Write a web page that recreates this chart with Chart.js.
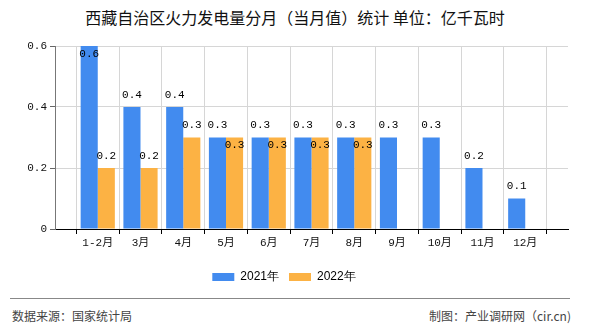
<!DOCTYPE html>
<html>
<head>
<meta charset="utf-8">
<script src="https://cdn.jsdelivr.net/npm/chart.js@4/dist/chart.umd.min.js"></script>
<style>
  html, body { margin: 0; padding: 0; background: #fff; }
  #wrap { position: relative; width: 590px; height: 330px; overflow: hidden; }
  #title { position: absolute; left: 0; top: 8px; width: 590px; text-align: center;
    font: 16px "Noto Sans CJK SC", sans-serif; line-height: 18px; color: #111; }
  #chartBox { position: absolute; left: 0; top: 0; width: 590px; height: 300px; }
  #footLine { position: absolute; left: 10px; top: 298px; width: 560px; border-top: 1px solid #888; }
  .foot { position: absolute; top: 308px; font: 12px "Noto Sans CJK SC", sans-serif; line-height: 16px; color: #444; }
</style>
</head>
<body>
<div id="wrap">
  <div id="title">西藏自治区火力发电量分月（当月值）统计 单位：亿千瓦时</div>
  <div id="chartBox"><canvas id="powerChart" width="590" height="300"></canvas></div>
  <div id="footLine"></div>
  <div class="foot" style="left:12px;">数据来源：国家统计局</div>
  <div class="foot" style="right:19px;">制图：产业调研网（cir.cn)</div>
</div>
<script>
const months = ['1-2月', '3月', '4月', '5月', '6月', '7月', '8月', '9月', '10月', '11月', '12月'];
const values2021 = [0.6, 0.4, 0.4, 0.3, 0.3, 0.3, 0.3, 0.3, 0.3, 0.2, 0.1];
const values2022 = [0.2, 0.2, 0.3, 0.3, 0.3, 0.3, 0.3, null, null, null, null];
const yTicks = [0, 0.2, 0.4, 0.6];

// empty slot at both ends of the x axis
const labels = ['', ...months, ''];
const pad = arr => [null, ...arr, null];

const monoFont = '"Liberation Mono", "Noto Sans CJK SC", monospace';

const barLabels = {
    id: 'barLabels',
    afterDatasetsDraw(chart) {
        const ctx = chart.ctx;
        const area = chart.chartArea;
        ctx.save();
        ctx.font = '11px ' + monoFont;
        ctx.fillStyle = '#000';
        ctx.textAlign = 'center';
        ctx.textBaseline = 'middle';
        chart.data.datasets.forEach((ds, di) => {
            const meta = chart.getDatasetMeta(di);
            meta.data.forEach((bar, i) => {
                const v = ds.data[i];
                if (v === null || v === undefined) return;
                let y = bar.y - 12;
                const other = chart.data.datasets[0].data[i];
                if (di === 1 && other === v) y = bar.y + 8;
                if (y - 6 < area.top) y = bar.y + 8;
                ctx.fillText(v.toFixed(1), bar.x, y);
            });
        });
        ctx.restore();
    }
};

new Chart(document.getElementById('powerChart').getContext('2d'), {
    type: 'bar',
    data: {
        labels: labels,
        datasets: [
            {
                label: '2021年',
                data: pad(values2021),
                backgroundColor: '#428bef',
                categoryPercentage: 0.8,
                barPercentage: 1
            },
            {
                label: '2022年',
                data: pad(values2022),
                backgroundColor: '#fcb244',
                categoryPercentage: 0.8,
                barPercentage: 1
            }
        ]
    },
    options: {
        responsive: false,
        animation: false,
        layout: { padding: { top: 46, right: 22, bottom: 7, left: 0 } },
        scales: {
            x: {
                offset: false,
                grid: { color: '#d6d6d6', tickColor: '#000', tickLength: 5 },
                border: { color: '#000' },
                ticks: {
                    autoSkip: false, maxRotation: 0, color: '#111',
                    font: { family: monoFont, size: 11 }, padding: 2
                },
                afterFit: s => { s.height = 32; }
            },
            y: {
                min: 0,
                max: 0.6,
                afterBuildTicks: s => { s.ticks = yTicks.map(v => ({ value: v })); },
                grid: { color: '#d6d6d6', tickColor: '#666', tickLength: 5 },
                border: { color: '#777' },
                ticks: {
                    color: '#111', padding: 3,
                    font: { family: monoFont, size: 11 },
                    callback: v => v === 0 ? '0' : v.toFixed(1)
                },
                afterFit: s => { s.width = 55; }
            }
        },
        plugins: {
            legend: {
                position: 'bottom',
                labels: {
                    boxWidth: 22, boxHeight: 8, padding: 10, color: '#000',
                    font: { family: '"Liberation Sans", Arial, sans-serif', size: 12 }
                }
            },
            tooltip: { enabled: false }
        }
    },
    plugins: [barLabels]
});
</script>
</body>
</html>
